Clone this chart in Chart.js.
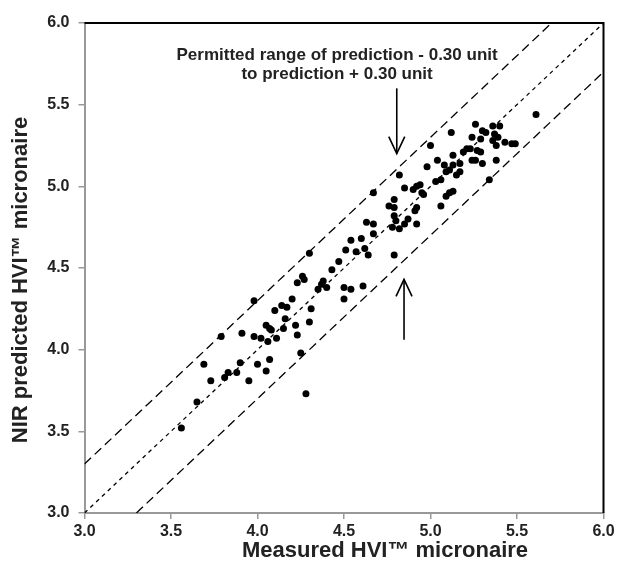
<!DOCTYPE html>
<html><head><meta charset="utf-8">
<script src="https://cdn.jsdelivr.net/npm/chart.js@4.4.0/dist/chart.umd.min.js"></script>
<style>html,body{margin:0;padding:0;background:#fff;}#wrap{width:617px;height:571px;}</style>
</head><body><div id="wrap"><canvas id="c" width="617" height="571"></canvas></div>
<script>
const measured = [3.56,3.65,3.69,3.73,3.81,3.83,3.88,3.79,3.90,3.91,3.95,4.00,3.98,4.02,4.06,4.05,4.07,4.11,4.05,4.07,4.08,3.98,4.10,4.14,4.17,4.16,4.15,4.20,4.22,4.23,4.23,4.26,4.27,4.25,4.28,4.30,4.31,4.30,4.35,4.37,4.38,4.40,4.43,4.47,4.50,4.50,4.54,4.51,4.54,4.57,4.60,4.61,4.62,4.64,4.63,4.67,4.67,4.67,4.76,4.79,4.79,4.79,4.80,4.79,4.78,4.82,4.85,4.87,4.92,4.91,4.92,4.82,4.85,4.90,4.92,4.94,4.95,4.96,4.98,5.00,5.03,5.06,5.06,5.04,5.08,5.13,5.17,5.11,5.09,5.17,5.09,5.11,5.13,5.12,5.13,5.21,5.23,5.27,5.29,5.19,5.24,5.26,5.15,5.30,5.38,5.34,5.26,5.36,5.40,5.30,5.32,5.37,5.39,5.24,5.29,5.36,5.43,5.47,5.49,5.38,5.61];
const predicted = [3.52,3.68,3.91,3.81,3.83,3.86,3.86,4.08,3.92,4.10,3.81,3.91,4.08,4.07,4.05,3.87,3.94,4.07,4.15,4.13,4.12,4.30,4.24,4.27,4.26,4.19,4.13,4.31,4.15,4.09,4.41,4.45,4.43,3.98,3.73,4.17,4.25,4.59,4.37,4.40,4.42,4.38,4.49,4.54,4.31,4.38,4.37,4.61,4.67,4.60,4.68,4.39,4.62,4.58,4.78,4.77,4.71,4.96,4.88,4.92,4.87,4.82,4.79,4.58,4.75,4.74,4.77,4.80,4.77,4.85,4.87,5.07,4.99,4.98,5.00,5.01,4.96,4.95,5.12,5.25,5.03,5.04,4.88,5.16,5.13,5.13,5.14,5.10,5.09,5.09,4.94,4.96,4.97,5.33,5.19,5.23,5.23,5.22,5.21,5.21,5.16,5.16,5.07,5.14,5.16,5.04,5.38,5.37,5.37,5.34,5.33,5.32,5.30,5.30,5.29,5.28,5.27,5.26,5.26,5.25,5.44];
const tickValues = [3.0,3.5,4.0,4.5,5.0,5.5,6.0];
const upperLineX = [3.0,5.7], upperLineY = [3.3,6.0];
const centerLineX = [3.0,6.0], centerLineY = [3.0,6.0];
const lowerLineX = [3.3,6.0], lowerLineY = [3.0,5.7];
const noteLines = ["Permitted range of prediction - 0.30 unit","to prediction + 0.30 unit"];
const noteX = 4.46, noteY = [5.80, 5.685];
const arrowDown = [4.805, 5.60, 5.20];   // x, tail y, tip y
const arrowUp = [4.847, 4.06, 4.43];
const xTitle = "Measured HVI\u2122 micronaire";
const yTitle = "NIR predicted HVI\u2122 micronaire";

const FONT = "'Liberation Sans', Arial, sans-serif";
const pts = measured.map((v,i)=>({x:v,y:predicted[i]}));
const seg = (xs,ys)=>xs.map((v,i)=>({x:v,y:ys[i]}));

const deco = {
  id:'deco',
  afterDraw(chart){
    const {ctx, chartArea:a, scales:{x,y}} = chart;
    ctx.save();
    ctx.strokeStyle='#000'; ctx.lineWidth=2;
    ctx.beginPath(); ctx.moveTo(a.left,a.top); ctx.lineTo(a.right,a.top); ctx.lineTo(a.right,a.bottom); ctx.stroke();
    ctx.fillStyle='#222'; ctx.font="bold 17px "+FONT; ctx.textAlign='center'; ctx.textBaseline='middle';
    noteLines.forEach((t,i)=>ctx.fillText(t, x.getPixelForValue(noteX), y.getPixelForValue(noteY[i])));
    const arrow=(ar)=>{
      const px=x.getPixelForValue(ar[0]), y0=y.getPixelForValue(ar[1]), y1=y.getPixelForValue(ar[2]);
      const dir = y1>y0?1:-1;
      ctx.strokeStyle='#000'; ctx.lineWidth=1.6;
      ctx.beginPath(); ctx.moveTo(px,y0); ctx.lineTo(px,y1); ctx.stroke();
      ctx.beginPath(); ctx.moveTo(px-8,y1-dir*17); ctx.lineTo(px,y1); ctx.lineTo(px+8,y1-dir*17); ctx.stroke();
    };
    arrow(arrowDown); arrow(arrowUp);
    ctx.fillStyle='#222'; ctx.font="bold 22px "+FONT;
    ctx.fillText(xTitle,385,551);
    ctx.translate(21,280); ctx.rotate(-Math.PI/2);
    ctx.fillText(yTitle,0,0);
    ctx.restore();
  }
};

const axisCommon = {
  type:'linear', min:3, max:6,
  afterBuildTicks(s){ s.ticks = tickValues.map(v=>({value:v})); },
  ticks:{ callback:v=>Number(v).toFixed(1), color:'#222', font:{family:FONT,size:16,weight:'bold'}, padding:3 },
  grid:{ drawOnChartArea:false, drawTicks:true, tickLength:6, color:'#999', lineWidth:1.5 },
  border:{ display:true, color:'#999', width:2 }
};

new Chart(document.getElementById('c'),{
  type:'scatter',
  data:{ datasets:[
    {data:pts, pointRadius:3.5, pointHoverRadius:3.5, backgroundColor:'#000', borderWidth:0, order:0},
    {data:seg(upperLineX,upperLineY), showLine:true, borderColor:'#000', borderWidth:1.3, borderDash:[9,5], pointRadius:0, order:1},
    {data:seg(centerLineX,centerLineY), showLine:true, borderColor:'#000', borderWidth:1.3, borderDash:[4,4], pointRadius:0, order:1},
    {data:seg(lowerLineX,lowerLineY), showLine:true, borderColor:'#000', borderWidth:1.3, borderDash:[9,5], pointRadius:0, order:1}
  ]},
  options:{
    responsive:false, animation:false, devicePixelRatio:1,
    layout:{ padding:{left:0,right:13.5,top:23,bottom:0} },
    plugins:{ legend:{display:false}, tooltip:{enabled:false} },
    scales:{
      x:{...axisCommon, afterFit(s){ s.height=58; s.paddingLeft=0; s.paddingRight=0; }},
      y:{...axisCommon, ticks:{...axisCommon.ticks, padding:9}, afterFit(s){ s.width=84.5; s.paddingTop=0; s.paddingBottom=0; }}
    }
  },
  plugins:[deco]
});
</script></body></html>
